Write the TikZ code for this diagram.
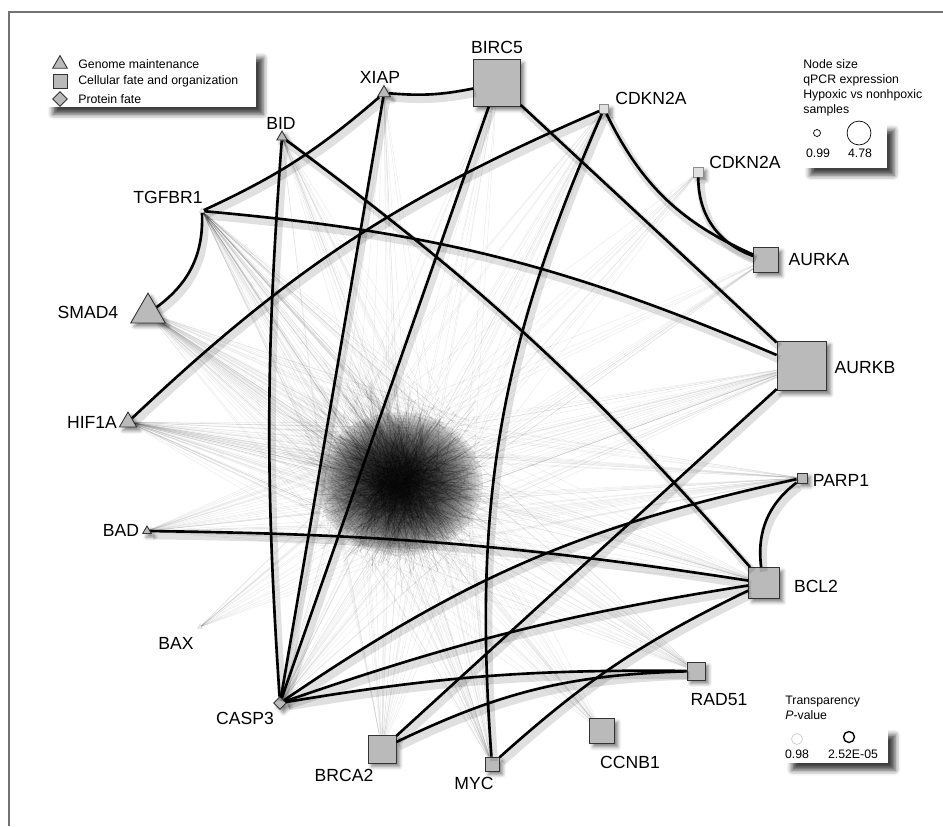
\documentclass[tikz,border=0pt]{standalone}
\usepackage{fontspec}
\setmainfont{Liberation Sans}
\usetikzlibrary{shapes.geometric,shadows.blur}

\tikzset{
  gene/.style={draw=black!80, fill=black!27, line width=.5pt, inner sep=0pt},
  lifted/.style={blur shadow={shadow xshift=2pt, shadow yshift=-2pt, shadow blur radius=2pt, shadow opacity=50}},
  sq/.style={gene, rectangle, minimum size={#1*0.567pt}},
  tri/.style={gene, regular polygon, regular polygon sides=3, minimum size={#1*0.567pt}},
  dia/.style={gene, diamond, minimum size={#1*0.567pt}},
  faint/.style={draw=black!45, fill=black!12},
  lab/.style={font=\fontsize{10}{12}\selectfont, inner sep=0pt},
  leg/.style={font=\fontsize{7}{8.5}\selectfont, inner sep=0pt},
  link/.style={line width=1.5pt, preaction={draw, black, line width=4.5pt, opacity=.12,
    transform canvas={shift={(1.5pt,-2.5pt)}}}},
  hair/.style={black, line width=.3pt, opacity=.07},
  core/.style={black, line width=.35pt, opacity=.15},
  legbox/.style={fill=white, blur shadow={shadow xshift=4pt, shadow yshift=-4pt, shadow blur radius=3pt, shadow opacity=75}},
}

\begin{document}
\begin{tikzpicture}[x=0.02cm, y=-0.02cm]
\useasboundingbox (0,0) rectangle (943,826);
\draw[black!55, line width=1.2pt] (9,826) -- (9,12) -- (943,12);

% genes on the ring
\node[sq=47, lifted] (BIRC5) at (497,83) {};
\node[tri=15, lifted] (XIAP) at (384,93) {};
\node[tri=12, lifted] (BID) at (282,137) {};
\node[sq=9, lifted, faint] (CDKN2Aa) at (604,109) {};
\node[sq=10, lifted, faint] (CDKN2Ab) at (698,172) {};
\node[sq=25, lifted] (AURKA) at (766,260) {};
\node[sq=50, lifted] (AURKB) at (802,366) {};
\node[sq=10, lifted] (PARP1) at (802,478) {};
\node[sq=31, lifted] (BCL2) at (764,583) {};
\node[sq=18, lifted] (RAD51) at (696,671) {};
\node[sq=25, lifted] (CCNB1) at (602,731) {};
\node[sq=14, lifted] (MYC) at (492,764) {};
\node[sq=28, lifted] (BRCA2) at (382,749) {};
\node[dia=13, lifted] (CASP3) at (280,703) {};
\node[tri=5, opacity=.15] (BAX) at (200,627) {};
\node[tri=10, lifted] (BAD) at (147,531) {};
\node[tri=20, lifted] (HIF1A) at (128,422) {};
\node[tri=40, lifted] (SMAD4) at (148,313) {};
\node[tri=6, opacity=.15] (TGFBR1) at (202,211) {};

% names
\node[lab] (tBIRC5) at (497,47) {BIRC5};
\node[lab] (tXIAP) at (380,77) {XIAP};
\node[lab] (tBID) at (281,123) {BID};
\node[lab] (tCDKN2Aa) at (651,98) {CDKN2A};
\node[lab] (tCDKN2Ab) at (745,162) {CDKN2A};
\node[lab] (tAURKA) at (819,260) {AURKA};
\node[lab] (tAURKB) at (865,368) {AURKB};
\node[lab] (tPARP1) at (841,480) {PARP1};
\node[lab] (tBCL2) at (816,586) {BCL2};
\node[lab] (tRAD51) at (719,700) {RAD51};
\node[lab] (tCCNB1) at (630,762) {CCNB1};
\node[lab] (tMYC) at (474,783) {MYC};
\node[lab] (tBRCA2) at (344,775) {BRCA2};
\node[lab] (tCASP3) at (245,718) {CASP3};
\node[lab] (tBAX) at (176,643) {BAX};
\node[lab] (tBAD) at (121,530) {BAD};
\node[lab] (tHIF1A) at (92,422) {HIF1A};
\node[lab] (tSMAD4) at (88,312) {SMAD4};
\node[lab] (tTGFBR1) at (168,197) {TGFBR1};

% background interactions
\coordinate (hub) at (400,484);
\foreach \r in {72,69,...,4}
  \fill[black, opacity=.09] (hub) ellipse ({1.15*\r} and \r);
\pgfmathsetseed{11}
% dense core
\foreach \k in {1,...,1000}{
  \pgfmathsetmacro\ang{rnd*360}
  \pgfmathsetmacro\len{15+rnd*65}
  \pgfmathsetmacro\dx{(rand+rand+rand)*16}
  \pgfmathsetmacro\dy{(rand+rand+rand)*14}
  \draw[core] ([shift={(\dx,\dy)}]hub) -- ++(\ang:\len);
}
% spray towards the upper left
\foreach \k in {1,...,250}{
  \pgfmathsetmacro\ang{195+rnd*70}
  \pgfmathsetmacro\len{40+rnd*100}
  \pgfmathsetmacro\dx{(rand+rand)*15}
  \pgfmathsetmacro\dy{(rand+rand)*15}
  \draw[hair] ([shift={(\dx,\dy)}]hub) -- ++(\ang:\len);
}
\foreach \g/\n in {SMAD4/60,HIF1A/60,TGFBR1/60,BAD/35,BAX/15,CASP3/30,BRCA2/25,MYC/35,CCNB1/20,
    RAD51/25,BCL2/25,PARP1/30,AURKB/30,AURKA/12,CDKN2Aa/18,CDKN2Ab/10,BID/18,XIAP/12,BIRC5/12}{
  \foreach \k in {1,...,\n}{
    \pgfmathsetmacro\dx{rand*75}
    \pgfmathsetmacro\dy{rand*65}
    \draw[hair] (\g) -- ([shift={(\dx,\dy)}]hub);
  }
}

% significant interactions
\draw[link] (XIAP) to[bend right=8] (BIRC5);
\draw[link] (TGFBR1) to[bend right=8] (XIAP);
\draw[link] (XIAP) -- (CASP3);
\draw[link] (BID) to[bend right=4] (CASP3);
\draw[link] (BID) to[bend left=6] (BCL2);
\draw[link] (BIRC5) -- (CASP3);
\draw[link] (BIRC5) -- (AURKB);
\draw[link] (CDKN2Aa) to[bend right=10] (HIF1A);
\draw[link] (CDKN2Aa) to[bend right=14] (MYC);
\draw[link] (CDKN2Aa) to[bend right=20] (AURKA);
\draw[link] (CDKN2Ab) to[bend right=35] (AURKA);
\draw[link] (TGFBR1) to[bend left=28] (SMAD4);
\draw[link] (TGFBR1) to[bend left=9] (AURKB);
\draw[link] (BAD) to[bend left=4] (BCL2);
\draw[link] (CASP3) to[bend left=11] (PARP1);
\draw[link] (CASP3) to[bend left=5] (BCL2);
\draw[link] (CASP3) to[bend left=5] (RAD51);
\draw[link] (PARP1) to[bend right=30] (BCL2);
\draw[link] (AURKB) -- (BRCA2);
\draw[link] (BRCA2) to[bend left=12] (RAD51);
\draw[link] (MYC) to[bend left=8] (BCL2);

% legend: shapes
\path[legbox] (46,51) rectangle (256,107);
\node[tri=17] (kGenome) at (60,64) {};
\node[sq=14] (kCell) at (60,81) {};
\node[dia=15] (kProt) at (60,99) {};
\node[leg, anchor=west] (tGenome) at (78,64) {Genome maintenance};
\node[leg, anchor=west] (tCell) at (78,81) {Cellular fate and organization};
\node[leg, anchor=west] (tProt) at (78,99) {Protein fate};

% legend: node size
\node[leg, anchor=north west, align=left] (tSize) at (803,59) {Node size\\qPCR expression\\Hypoxic vs nonhpoxic\\samples};
\path[legbox] (803,123) rectangle (887,168);
\node[draw, circle, inner sep=0pt, minimum size={7*0.567pt}] (kSmall) at (817,133) {};
\node[draw, circle, inner sep=0pt, minimum size={24*0.567pt}] (kLarge) at (859,133) {};
\node[leg] (tSmall) at (818,153) {0.99};
\node[leg] (tLarge) at (860,153) {4.78};

% legend: transparency
\node[leg, anchor=north west, align=left] (tAlpha) at (785,696) {Transparency\\\textit{P}-value};
\path[legbox] (785,728) rectangle (888,763);
\node[draw=black!20, circle, inner sep=0pt, minimum size={11*0.567pt}] (kLight) at (797,739) {};
\node[draw, circle, line width=.8pt, inner sep=0pt, minimum size={11*0.567pt}] (kDark) at (849,737) {};
\node[leg] (tLight) at (797,754) {0.98};
\node[leg] (tDark) at (853,754) {2.52E-05};
\end{tikzpicture}
\end{document}
